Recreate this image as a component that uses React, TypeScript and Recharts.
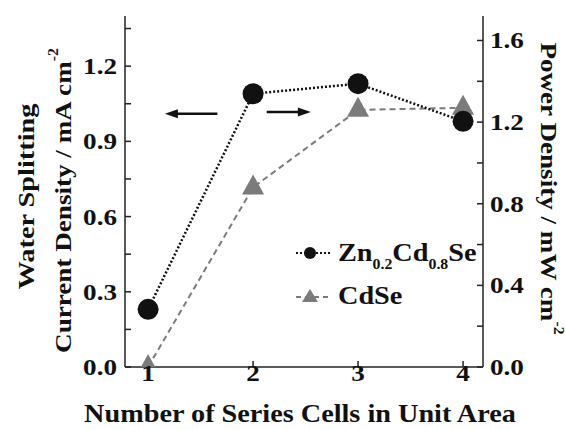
import * as Recharts from 'recharts';
import { LineChart, Line, XAxis, YAxis, ReferenceLine, ReferenceDot } from 'recharts';

// number of series-connected cells per unit area
const cellCounts = [1, 2, 3, 4];
// Zn0.2Cd0.8Se water splitting current density (mA cm^-2), left axis
const znCdSeCurrent = [0.23, 1.09, 1.13, 0.98];
// CdSe power density (mW cm^-2), right axis
const cdSePower = [0.0, 0.88, 1.26, 1.27];

const leftTicks = [0, 0.15, 0.3, 0.45, 0.6, 0.75, 0.9, 1.05, 1.2, 1.35];
const leftLabeled = [0, 0.3, 0.6, 0.9, 1.2];
const rightTicks = [0, 0.2, 0.4, 0.6, 0.8, 1.0, 1.2, 1.4, 1.6];
const rightLabeled = [0, 0.4, 0.8, 1.2, 1.6];

// axis-pointer arrows, in data units of the left axis
const leftArrow = { from: 1.66, to: 1.16, y: 1.01 };
const rightArrow = { from: 2.13, to: 2.55, y: 1.017 };

const data = cellCounts.map((n, i) => ({
  n,
  current: znCdSeCurrent[i],
  power: cdSePower[i],
}));

const FONT = '"Liberation Serif", "Times New Roman", serif';
const INK = '#111';
const GRAY = '#7b7b7b';
const STRETCH = 1.13;

const usePlotArea: any = (Recharts as any).usePlotArea;

const isLabeled = (list: number[], v: number) => list.some((t) => Math.abs(t - v) < 1e-6);

const CircleDot = ({ cx, cy }: any) => <circle cx={cx} cy={cy} r={10.5} fill={INK} />;

const TriangleDot = ({ cx, cy }: any) => {
  const plot = usePlotArea ? usePlotArea() : undefined;
  const bottom = plot ? plot.y + plot.height : Infinity;
  const top = cy - 13;
  const base = cy + 7;
  if (base > bottom) {
    const hw = (11 * (bottom - top)) / 20;
    return <polygon points={`${cx},${top} ${cx - hw},${bottom} ${cx + hw},${bottom}`} fill={GRAY} />;
  }
  return <polygon points={`${cx},${top} ${cx - 11},${base} ${cx + 11},${base}`} fill={GRAY} />;
};

const ArrowHead = ({ cx, cy, dir }: any) => (
  <polygon
    points={`${cx},${cy} ${cx - dir * 13},${cy - 4.5} ${cx - dir * 13},${cy + 4.5}`}
    fill={INK}
  />
);

// wide bold serif text, stretched horizontally like the original typeface
const WideText = ({ x, y, anchor, size, children }: any) => (
  <g transform={`translate(${x}, ${y}) scale(${STRETCH}, 1)`}>
    <text textAnchor={anchor} dominantBaseline="central" fontFamily={FONT} fontWeight="bold" fontSize={size} fill={INK}>
      {children}
    </text>
  </g>
);

const LeftTick = ({ x, y, payload }: any) =>
  isLabeled(leftLabeled, payload.value) ? (
    <WideText x={x} y={y} anchor="end" size={24}>{payload.value.toFixed(1)}</WideText>
  ) : null;

const RightTick = ({ x, y, payload }: any) =>
  isLabeled(rightLabeled, payload.value) ? (
    <WideText x={x} y={y} anchor="start" size={24}>{payload.value.toFixed(1)}</WideText>
  ) : null;

const BottomTick = ({ x, y, payload }: any) => (
  <WideText x={x} y={y + 12} anchor="middle" size={24}>{payload.value}</WideText>
);

const LeftLabel = ({ viewBox }: any) => {
  const { x, y, height } = viewBox;
  const cy = y + height / 2;
  return (
    <g fontFamily={FONT} fontWeight="bold" fontSize={24} fill={INK}>
      <g transform={`translate(${x - 29}, ${cy + 5}) rotate(-90) scale(1.18, 1)`}>
        <text textAnchor="middle" dominantBaseline="central">Water Splitting</text>
      </g>
      <g transform={`translate(${x + 8}, ${cy + 9}) rotate(-90) scale(${STRETCH}, 1)`}>
        <text textAnchor="middle" dominantBaseline="central">
          Current Density / mA cm<tspan dy={-10} fontSize={14}>-2</tspan>
        </text>
      </g>
    </g>
  );
};

const RightLabel = ({ viewBox }: any) => {
  const { x, width, y, height } = viewBox;
  const cy = y + height / 2;
  return (
    <g transform={`translate(${x + width - 4}, ${cy - 3}) rotate(90) scale(${STRETCH}, 1)`}>
      <text textAnchor="middle" dominantBaseline="central" fontFamily={FONT} fontWeight="bold" fontSize={24} fill={INK}>
        Power Density / mW cm<tspan dy={-10} fontSize={14}>-2</tspan>
      </text>
    </g>
  );
};

const BottomLabel = ({ viewBox }: any) => {
  const { x, width, y } = viewBox;
  return (
    <WideText x={x + width / 2 - 4} y={y + 47} anchor="middle" size={25}>
      Number of Series Cells in Unit Area
    </WideText>
  );
};

const legendText: React.CSSProperties = {
  fontFamily: FONT,
  fontWeight: 'bold',
  fontSize: 25,
  color: INK,
  display: 'inline-block',
  transform: `scaleX(${STRETCH})`,
  transformOrigin: 'left center',
  whiteSpace: 'nowrap',
};
const subText: React.CSSProperties = { fontSize: 14, position: 'relative', top: 8 };

const LegendBox = () => (
  <div style={{ position: 'absolute', left: 294, top: 238, display: 'flex', flexDirection: 'column', gap: 13 }}>
    <div style={{ display: 'flex', alignItems: 'center', height: 30 }}>
      <svg width={44} height={20}>
        <line x1={2} y1={10} x2={38} y2={10} stroke={INK} strokeWidth={2} strokeDasharray="2 2" />
        <circle cx={16} cy={10} r={6} fill={INK} />
      </svg>
      <span style={legendText}>
        Zn<span style={subText}>0.2</span>Cd<span style={subText}>0.8</span>Se
      </span>
    </div>
    <div style={{ display: 'flex', alignItems: 'center', height: 30 }}>
      <svg width={44} height={20}>
        <line x1={2} y1={11} x2={38} y2={11} stroke={GRAY} strokeWidth={2} strokeDasharray="5 4" />
        <polygon points="16,3 8,16 24,16" fill={GRAY} />
      </svg>
      <span style={legendText}>CdSe</span>
    </div>
  </div>
);

export default function App() {
  return (
    <div style={{ position: 'absolute', left: 0, top: 0, width: 565, height: 430, background: '#fff' }}>
      <LineChart width={565} height={430} data={data} margin={{ top: 16, right: 12, bottom: 33, left: 55 }}>
        <XAxis
          dataKey="n"
          type="number"
          domain={[0.78, 4.19]}
          ticks={cellCounts}
          interval={0}
          allowDataOverflow
          height={30}
          stroke="#222"
          strokeWidth={1.5}
          tickSize={-6}
          tickMargin={0}
          tick={<BottomTick />}
          label={<BottomLabel />}
        />
        <XAxis
          xAxisId="top"
          dataKey="n"
          type="number"
          orientation="top"
          domain={[0.78, 4.19]}
          height={0}
          tick={false}
          tickLine={false}
          stroke="#222"
          strokeWidth={1.5}
        />
        <YAxis
          yAxisId="left"
          domain={[0, 1.4]}
          ticks={leftTicks}
          interval={0}
          allowDataOverflow
          width={70}
          stroke="#222"
          strokeWidth={1.5}
          tickSize={-6}
          tickMargin={14}
          tick={<LeftTick />}
          label={<LeftLabel />}
        />
        <YAxis
          yAxisId="right"
          orientation="right"
          domain={[0, 1.72]}
          ticks={rightTicks}
          interval={0}
          allowDataOverflow
          width={70}
          stroke="#222"
          strokeWidth={1.5}
          tickSize={-6}
          tickMargin={13}
          tick={<RightTick />}
          label={<RightLabel />}
        />
        <ReferenceLine
          yAxisId="left"
          segment={[{ x: leftArrow.from, y: leftArrow.y }, { x: leftArrow.to + 0.08, y: leftArrow.y }]}
          stroke={INK}
          strokeWidth={2.5}
        />
        <ReferenceDot yAxisId="left" x={leftArrow.to} y={leftArrow.y} shape={(p: any) => <ArrowHead {...p} dir={-1} />} />
        <ReferenceLine
          yAxisId="left"
          segment={[{ x: rightArrow.from, y: rightArrow.y }, { x: rightArrow.to - 0.08, y: rightArrow.y }]}
          stroke={INK}
          strokeWidth={2.5}
        />
        <ReferenceDot yAxisId="left" x={rightArrow.to} y={rightArrow.y} shape={(p: any) => <ArrowHead {...p} dir={1} />} />
        <Line
          yAxisId="right"
          dataKey="power"
          stroke={GRAY}
          strokeWidth={2}
          strokeDasharray="6 4"
          dot={(p: any) => <TriangleDot key={`tri-${p.index}`} {...p} />}
          activeDot={false}
          isAnimationActive={false}
        />
        <Line
          yAxisId="left"
          dataKey="current"
          stroke={INK}
          strokeWidth={2.5}
          strokeDasharray="2 2"
          dot={(p: any) => <CircleDot key={`dot-${p.index}`} {...p} />}
          activeDot={false}
          isAnimationActive={false}
        />
      </LineChart>
      <LegendBox />
    </div>
  );
}
